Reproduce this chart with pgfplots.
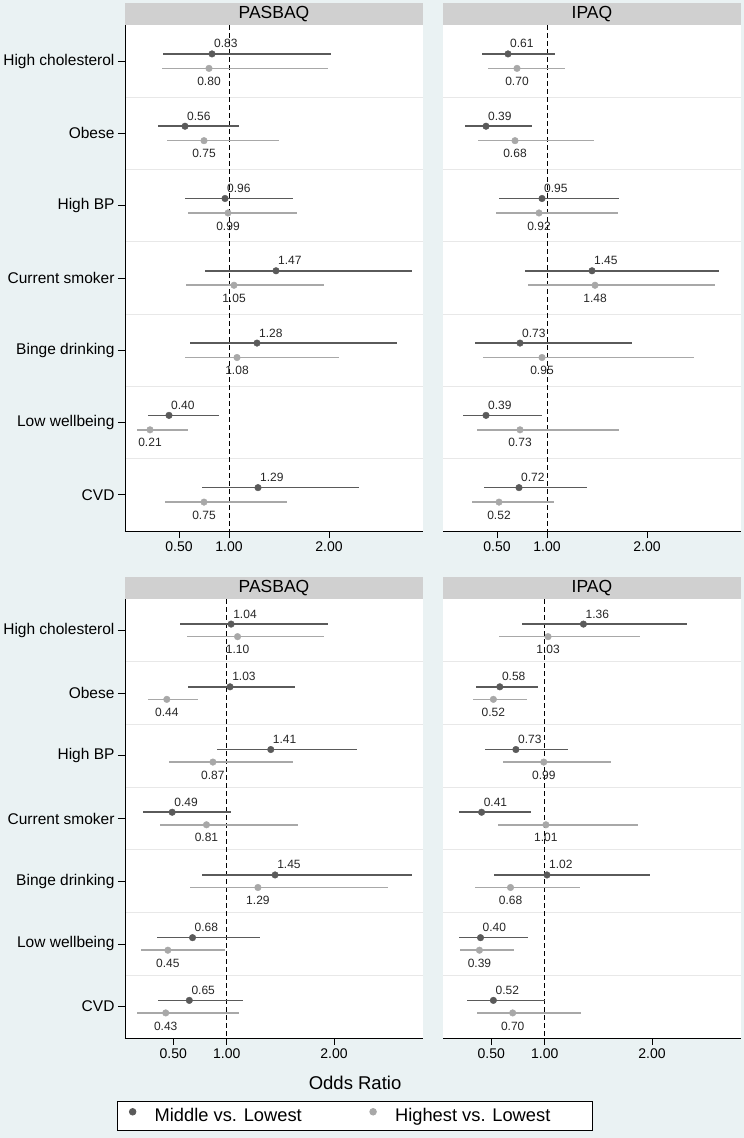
\documentclass[border=0pt]{standalone}
\usepackage{fontspec}
\setmainfont{Liberation Sans}
\usepackage{pgfplots}
\usepackage{pgfplotstable}
\pgfplotsset{compat=1.18}

\definecolor{bgc}{RGB}{234,242,243}
\definecolor{stripc}{RGB}{208,208,208}
\definecolor{darkc}{RGB}{90,90,90}
\definecolor{lightc}{RGB}{168,168,168}
\definecolor{sepc}{RGB}{232,232,232}

% cat: 1 High cholesterol ... 7 CVD; mid = Middle vs. Lowest, high = Highest vs. Lowest
\pgfplotstableread{
cat mid  mlo  mhi  high hlo  hhi
1   0.83 0.34 2.02 0.80 0.33 1.99
2   0.56 0.29 1.10 0.75 0.38 1.50
3   0.96 0.56 1.64 0.99 0.59 1.68
4   1.47 0.76 2.83 1.05 0.57 1.95
5   1.28 0.61 2.68 1.08 0.56 2.10
6   0.40 0.19 0.90 0.21 0.08 0.59
7   1.29 0.73 2.30 0.75 0.36 1.58
}\topleft
\pgfplotstableread{
cat mid  mlo  mhi  high hlo  hhi
1   0.61 0.35 1.08 0.70 0.41 1.18
2   0.39 0.18 0.85 0.68 0.31 1.47
3   0.95 0.52 1.72 0.92 0.49 1.71
4   1.45 0.78 2.72 1.48 0.81 2.68
5   0.73 0.28 1.85 0.95 0.36 2.47
6   0.39 0.16 0.95 0.73 0.30 1.72
7   0.72 0.37 1.40 0.52 0.25 1.07
}\topright
\pgfplotstableread{
cat mid  mlo  mhi  high hlo  hhi
1   1.04 0.56 1.94 1.10 0.63 1.91
2   1.03 0.64 1.64 0.44 0.26 0.73
3   1.41 0.91 2.21 0.87 0.46 1.62
4   0.49 0.22 1.04 0.81 0.38 1.66
5   1.45 0.77 2.73 1.29 0.66 2.50
6   0.68 0.35 1.31 0.45 0.20 0.98
7   0.65 0.36 1.15 0.43 0.16 1.11
}\botleft
\pgfplotstableread{
cat mid  mlo  mhi  high hlo  hhi
1   1.36 0.79 2.33 1.03 0.57 1.89
2   0.58 0.36 0.94 0.52 0.33 0.83
3   0.73 0.44 1.22 0.99 0.61 1.62
4   0.41 0.20 0.87 1.01 0.56 1.87
5   1.02 0.53 1.98 0.68 0.35 1.33
6   0.40 0.20 0.84 0.39 0.21 0.71
7   0.52 0.27 1.00 0.70 0.37 1.34
}\botright

\pgfplotsset{
  /pgf/number format/assume math mode=true,
  forest/.style={
    scale only axis, width=298pt,
    y dir=reverse, ymin=0.5, ymax=7.5,
    ytick={1,...,7},
    minor ytick={1.5,2.5,...,6.5},
    yminorgrids, minor grid style={sepc, line width=0.8pt},
    minor tick length=0pt,
    xtick={0.5,1,2}, xticklabels={0.50,1.00,2.00},
    axis x line*=bottom, axis y line*=left,
    x axis line style={black, line width=0.8pt},
    y axis line style={black, line width=0.8pt},
    tick style={black, line width=0.8pt},
    tick align=outside, major tick length=7pt,
    axis background/.style={fill=white},
    xticklabel style={font=\fontsize{14}{16}\selectfont},
    yticklabel style={font=\fontsize{15.5}{18}\selectfont},
    every axis title/.style={at={(0.5,1)}, anchor=south, fill=stripc,
      minimum width=298pt, minimum height=22pt, inner sep=0pt,
      font=\fontsize{17.5}{20}\selectfont},
    clip=false,
  },
  rightpanel/.style={
    yticklabels={}, ytick style={draw=none}, y axis line style={draw=none},
  },
  midser/.style={
    forget plot, only marks, mark=*, mark size=3.3pt, darkc,
    point meta=x,
    nodes near coords={\pgfmathprintnumber[fixed,fixed zerofill,precision=2]{\pgfplotspointmeta}},
    nodes near coords style={anchor=base west, xshift=2pt, yshift=6pt, inner sep=0pt,
      font=\fontsize{12}{14}\selectfont, text=black!85},
    error bars/.cd, x dir=both, x explicit, error mark=none,
    error bar style={line width=1.5pt, darkc},
  },
  highser/.style={
    forget plot, only marks, mark=*, mark size=3.3pt, lightc,
    point meta=x,
    nodes near coords={\pgfmathprintnumber[fixed,fixed zerofill,precision=2]{\pgfplotspointmeta}},
    nodes near coords style={anchor=north, yshift=-8.5pt, inner sep=0pt,
      font=\fontsize{12}{14}\selectfont, text=black!85},
    error bars/.cd, x dir=both, x explicit, error mark=none,
    error bar style={line width=1.5pt, lightc},
  },
}

\newcommand{\forestpanel}[1]{%
  \addplot[forget plot, black, line width=0.8pt, dash pattern=on 5pt off 3pt]
    coordinates {(1,0.5) (1,7.5)};
  \addplot[midser] table[x=mid, y expr=\thisrow{cat}-0.1,
    x error plus expr=\thisrow{mhi}-\thisrow{mid},
    x error minus expr=\thisrow{mid}-\thisrow{mlo}] {#1};
  \addplot[highser] table[x=high, y expr=\thisrow{cat}+0.1,
    x error plus expr=\thisrow{hhi}-\thisrow{high},
    x error minus expr=\thisrow{high}-\thisrow{hlo}] {#1};
}

\begin{document}
\begin{tikzpicture}
\fill[bgc] (0pt,0pt) rectangle (744pt,-1138pt);

\begin{axis}[forest, height=506pt, at={(125pt,-25pt)}, anchor=north west,
  xmin=-0.04, xmax=2.94, title={PASBAQ},
  yticklabels={High cholesterol,Obese,High BP,Current smoker,Binge drinking,Low wellbeing,CVD}]
\forestpanel{\topleft}
\end{axis}

\begin{axis}[forest, rightpanel, height=506pt, at={(443pt,-25pt)}, anchor=north west,
  xmin=-0.04, xmax=2.94, title={IPAQ}]
\forestpanel{\topright}
\end{axis}

\begin{axis}[forest, height=439pt, at={(125pt,-599pt)}, anchor=north west,
  xmin=0.05, xmax=2.83, title={PASBAQ},
  yticklabels={High cholesterol,Obese,High BP,Current smoker,Binge drinking,Low wellbeing,CVD},
  xlabel={Odds Ratio},
  xlabel style={at={(axis description cs:0.772,-0.1025)}, anchor=center,
    font=\fontsize{18.5}{22}\selectfont},
  legend columns=2,
  legend style={at={(axis description cs:-0.027,-0.1435)}, anchor=north west,
    draw=black, line width=0.8pt, fill=white,
    font=\fontsize{18.3}{21}\selectfont,
    inner xsep=12pt, inner ysep=5pt, nodes={inner sep=2pt},
    /tikz/every even column/.append style={column sep=66pt}},
  legend cell align=left]
\forestpanel{\botleft}
\addlegendimage{legend image code/.code={\path[draw=none] (0pt,0pt) -- (20pt,0pt);
  \draw[darkc, mark=*, mark size=3.3pt] plot coordinates {(0pt,4pt)};}}
\addlegendentry{Middle vs. Lowest}
\addlegendimage{legend image code/.code={\path[draw=none] (0pt,0pt) -- (20pt,0pt);
  \draw[lightc, mark=*, mark size=3.3pt] plot coordinates {(0pt,4pt)};}}
\addlegendentry{Highest vs. Lowest\hspace*{28pt}}
\end{axis}

\begin{axis}[forest, rightpanel, height=439pt, at={(443pt,-599pt)}, anchor=north west,
  xmin=0.05, xmax=2.83, title={IPAQ}]
\forestpanel{\botright}
\end{axis}

\pgfresetboundingbox
\path (0pt,0pt) rectangle (744pt,-1138pt);
\end{tikzpicture}
\end{document}
